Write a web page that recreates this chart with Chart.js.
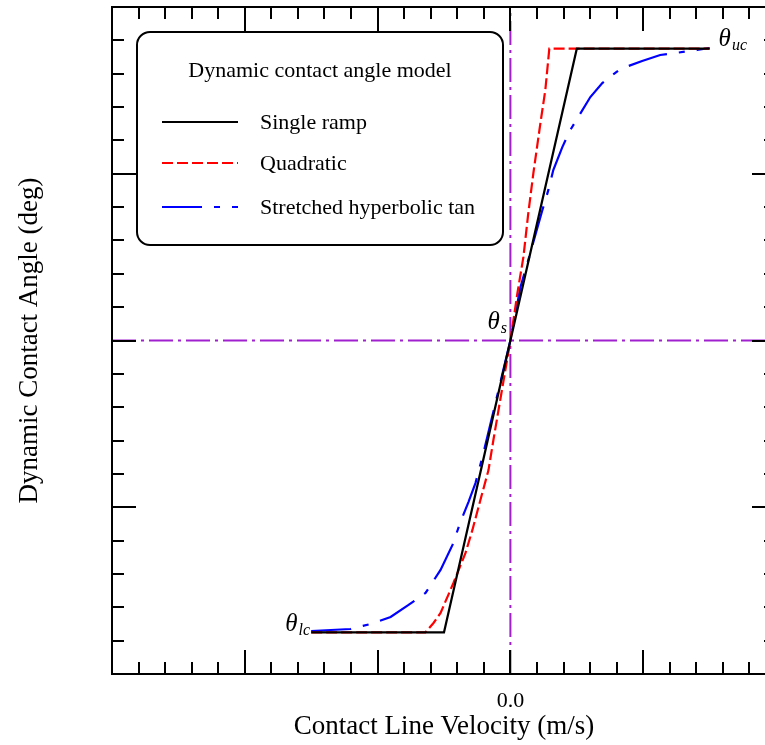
<!DOCTYPE html>
<html><head><meta charset="utf-8">
<script src="https://cdn.jsdelivr.net/npm/chart.js@4/dist/chart.umd.min.js"></script>
<style>
html,body{margin:0;padding:0;background:#fff;overflow:hidden;width:765px;height:745px}
#wrap{position:absolute;left:0;top:0;width:790px;height:745px}
</style>
</head><body><div id="wrap"><canvas id="c" width="790" height="745"></canvas></div>
<script>
// ---- data ----
const seriesNames = ['Single ramp', 'Quadratic', 'Stretched hyperbolic tan'];
const legendTitle = 'Dynamic contact angle model';
const xTitle = 'Contact Line Velocity (m/s)';
const yTitle = 'Dynamic Contact Angle (deg)';
const xTickLabels = ['0.0'];            // only labelled tick (at velocity 0)
const xTickLabelValues = [0];

const rampX = [-1.5, -0.5, 0.5, 1.5];
const rampY = [0.25, 0.25, 3.75, 3.75];

const quadX = [-1.5, -0.64, -0.579, -0.526, -0.429, -0.338, -0.286, -0.226, -0.165, -0.128, 0, 0.053, 0.098, 0.135, 0.173, 0.226, 0.263, 0.293, 1.5];
const quadY = [0.25, 0.25, 0.306, 0.366, 0.546, 0.726, 0.864, 1.043, 1.223, 1.403, 2.0, 2.285, 2.501, 2.765, 3.004, 3.304, 3.502, 3.75, 3.75];

const tanhX = [-1.5, -1.203, -1.053, -0.902, -0.767, -0.639, -0.526, -0.436, -0.376, -0.316, -0.263, -0.203, 0, 0.075, 0.15, 0.241, 0.286, 0.323, 0.391, 0.451, 0.602, 0.692, 0.827, 0.992, 1.128, 1.406, 1.5];
const tanhY = [0.258, 0.27, 0.30, 0.342, 0.414, 0.486, 0.624, 0.774, 0.912, 1.031, 1.145, 1.325, 2.0, 2.318, 2.525, 2.783, 2.903, 3.022, 3.160, 3.262, 3.460, 3.544, 3.628, 3.676, 3.712, 3.742, 3.754];

const staticAngle = 2.0;      // theta_s level
const upperAngle = 3.75;      // theta_uc
const lowerAngle = 0.25;      // theta_lc
const xRange = [-3, 2];
const yRange = [0, 4];
const minorStep = 0.2;

// ---- chart ----
const pts = (xs, ys) => xs.map((v, i) => ({x: v, y: ys[i]}));
const purple = '#a020d0';
const serif = "'Liberation Serif', 'Times New Roman', serif";

const datasets = [
  {label: seriesNames[0], data: pts(rampX, rampY), borderColor: '#000', borderWidth: 2.2, borderDash: []},
  {label: seriesNames[1], data: pts(quadX, quadY), borderColor: '#ff0000', borderWidth: 2.2, borderDash: [11, 4]},
  {label: seriesNames[2], data: pts(tanhX, tanhY), borderColor: '#0000ff', borderWidth: 2.2, borderDash: [40, 12, 6, 12]},
  {label: 'vline', data: [{x: 0, y: yRange[0]}, {x: 0, y: yRange[1]}], borderColor: purple, borderWidth: 2, borderDash: [24, 5, 3, 5], isRef: true},
  {label: 'hline', data: [{x: xRange[0], y: staticAngle}, {x: xRange[1], y: staticAngle}], borderColor: purple, borderWidth: 2, borderDash: [24, 5, 3, 5], isRef: true}
].map(d => Object.assign({pointRadius: 0, tension: 0, fill: false}, d));

const decor = {
  id: 'decor',
  afterDraw(chart) {
    const {ctx, chartArea: a, scales: {x, y}} = chart;
    ctx.save();
    ctx.strokeStyle = '#000';
    ctx.lineWidth = 2;
    ctx.setLineDash([]);
    const line = (x1, y1, x2, y2) => { ctx.beginPath(); ctx.moveTo(x1, y1); ctx.lineTo(x2, y2); ctx.stroke(); };
    // frame
    ctx.strokeRect(a.left, a.top, a.right - a.left, a.bottom - a.top);
    // inward ticks x
    const nx = Math.round((x.max - x.min) / minorStep);
    for (let i = 0; i <= nx; i++) {
      const v = x.min + i * minorStep;
      const px = Math.round(x.getPixelForValue(v));
      const major = Math.abs(v - Math.round(v)) < 1e-6;
      const L = major ? 24 : 12;
      line(px, a.bottom, px, a.bottom - L);
      line(px, a.top, px, a.top + L);
    }
    const ny = Math.round((y.max - y.min) / minorStep);
    for (let i = 0; i <= ny; i++) {
      const v = y.min + i * minorStep;
      const py = Math.round(y.getPixelForValue(v));
      const major = Math.abs(v - Math.round(v)) < 1e-6;
      const L = major ? 24 : 12;
      line(a.left, py, a.left + L, py);
      line(a.right, py, a.right - L, py);
    }
    // legend box
    const bx = 137, by = 32, bw = 366, bh = 213, r = 13;
    ctx.fillStyle = '#fff';
    ctx.beginPath();
    ctx.roundRect(bx, by, bw, bh, r);
    ctx.fill();
    ctx.stroke();
    ctx.fillStyle = '#000';
    ctx.font = '22px ' + serif;
    ctx.textBaseline = 'middle';
    ctx.textAlign = 'center';
    ctx.fillText(legendTitle, 320, 71);
    ctx.textAlign = 'left';
    const rows = [122, 163, 207];
    chart.data.datasets.filter(d => !d.isRef).forEach((d, i) => {
      ctx.strokeStyle = d.borderColor;
      ctx.lineWidth = 2.2;
      ctx.setLineDash(d.borderDash || []);
      line(162, rows[i], 238, rows[i]);
      ctx.setLineDash([]);
      ctx.fillStyle = '#000';
      ctx.fillText(d.label, 260, rows[i] + 1);
    });
    // theta labels
    const theta = (px, py, sub) => {
      ctx.textBaseline = 'alphabetic';
      ctx.textAlign = 'left';
      ctx.fillStyle = '#000';
      ctx.font = 'italic 25px ' + serif;
      ctx.fillText('\u03b8', px, py);
      const w = ctx.measureText('\u03b8').width;
      ctx.font = 'italic 16px ' + serif;
      ctx.fillText(sub, px + w + 1, py + 4);
    };
    const uX = x.getPixelForValue(rampX[rampX.length - 1]), uY = y.getPixelForValue(upperAngle);
    theta(uX + 9, uY - 3, 'uc');
    const sX = x.getPixelForValue(0), sY = y.getPixelForValue(staticAngle);
    theta(sX - 23, sY - 12, 's');
    const lX = x.getPixelForValue(rampX[0]), lY = y.getPixelForValue(lowerAngle);
    theta(lX - 26, lY - 1, 'lc');
    ctx.restore();
  }
};

new Chart(document.getElementById('c'), {
  type: 'line',
  data: {datasets},
  options: {
    responsive: false,
    animation: false,
    layout: {padding: {top: 7, right: 14, left: 0, bottom: 0}},
    plugins: {legend: {display: false}, tooltip: {enabled: false}},
    scales: {
      x: {
        type: 'linear', min: xRange[0], max: xRange[1],
        grid: {display: false, drawTicks: false}, border: {display: false},
        afterFit: s => { s.height = 71; },
        ticks: {
          stepSize: 1, autoSkip: false, maxRotation: 0, padding: 14, color: '#000',
          font: {family: serif, size: 22},
          callback: v => { const k = xTickLabelValues.findIndex(t => Math.abs(t - v) < 1e-9); return k >= 0 ? xTickLabels[k] : ''; }
        },
        title: {display: true, text: xTitle, color: '#000', font: {family: serif, size: 27}, padding: {top: 0, bottom: 2}}
      },
      y: {
        type: 'linear', min: yRange[0], max: yRange[1],
        grid: {display: false, drawTicks: false}, border: {display: false},
        afterFit: s => { s.width = 112; },
        ticks: {display: false},
        title: {display: true, text: yTitle, color: '#000', font: {family: serif, size: 27}, padding: {top: 14, bottom: 0}}
      }
    }
  },
  plugins: [decor]
});
</script>
</body></html>
